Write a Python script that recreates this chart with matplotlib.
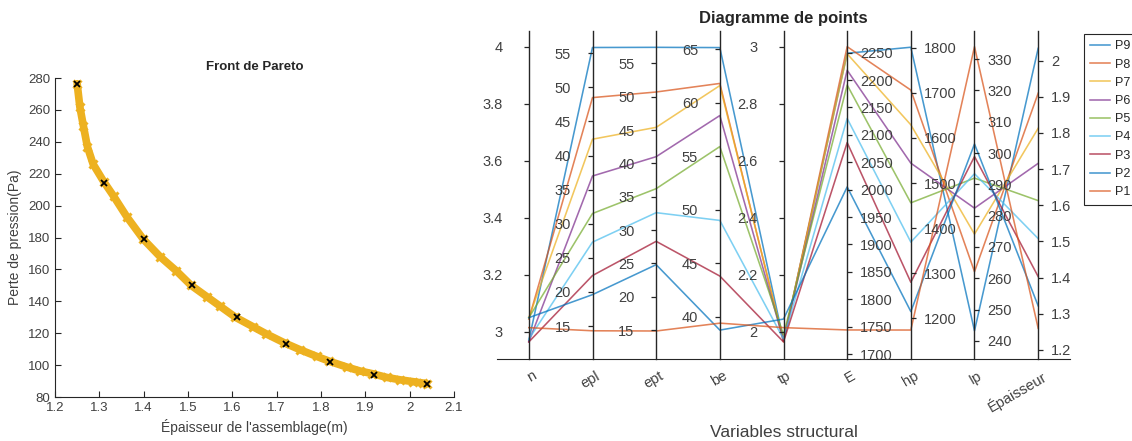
import matplotlib
matplotlib.use("Agg")
import matplotlib.pyplot as plt

plt.rcParams['font.family'] = ['Liberation Sans', 'DejaVu Sans']
plt.rcParams['text.color'] = '#262626'
plt.rcParams['axes.edgecolor'] = '#262626'
plt.rcParams['xtick.color'] = '#262626'
plt.rcParams['ytick.color'] = '#262626'

# --- Pareto front (left) ---
front_x = [1.250, 1.256, 1.264, 1.273, 1.286, 1.310, 1.332, 1.362, 1.399, 1.437,
           1.474, 1.507, 1.542, 1.572, 1.607, 1.647, 1.677, 1.717, 1.753, 1.790,
           1.819, 1.858, 1.888, 1.916, 1.948, 1.978, 2.008, 2.031, 2.038]
front_y = [276.4, 262, 250, 237, 226, 215, 206, 193, 179, 168,
           159, 150, 143, 137, 130, 124, 119.5, 114, 109.6, 105.5,
           102.4, 98.8, 96.3, 94.6, 92.3, 90.8, 89.6, 88.7, 88.3]
sel_x = [1.25, 1.31, 1.40, 1.51, 1.61, 1.72, 1.82, 1.92, 2.04]
sel_y = [276, 214, 179, 150, 130, 113, 102, 94, 88]

# --- parallel coordinates (right) ---
var_names = ['n', 'epl', 'ept', 'be', 'tp', 'E', 'hp', 'Ip', 'Épaisseur']
series_names = ['P1', 'P2', 'P3', 'P4', 'P5', 'P6', 'P7', 'P8', 'P9']
n_vals = [3.015, 3.05, 2.965, 2.975, 3.05, 2.965, 3.05, 3.045, 2.97]
epl_vals = [14.3, 19.6, 22.4, 27.3, 31.5, 37.0, 42.4, 48.5, 55.85]
ept_vals = [14.85, 24.8, 28.3, 32.6, 36.2, 41.0, 45.4, 50.7, 57.4]
be_vals = [39.4, 38.75, 43.8, 49.0, 55.9, 58.8, 61.6, 61.8, 65.15]
tp_vals = [2.015, 2.045, 1.965, 1.975, 1.99, 1.97, 1.97, 1.965, 1.97]
E_vals = [1744, 2005, 2086, 2130, 2191, 2218, 2248, 2261, 2249]
hp_vals = [1174, 1215, 1280, 1369, 1456, 1544, 1629, 1706, 1801]
Ip_vals = [334.0, 302.9, 298.9, 293.4, 292.0, 282.4, 274.1, 262.1, 243.2]
ep_vals = [1.26, 1.322, 1.403, 1.508, 1.613, 1.716, 1.813, 1.910, 2.034]
columns = [n_vals, epl_vals, ept_vals, be_vals, tp_vals, E_vals, hp_vals, Ip_vals, ep_vals]

# axis ranges and ticks for each variable
limits = [(2.905, 4.056), (10.16, 58.27), (10.65, 59.85), (36.05, 66.7), (1.905, 3.055),
          (1691, 2289.6), (1109.8, 1837), (234.2, 339), (1.175, 2.082)]
ticks = [[3, 3.2, 3.4, 3.6, 3.8, 4],
         [15, 20, 25, 30, 35, 40, 45, 50, 55],
         [15, 20, 25, 30, 35, 40, 45, 50, 55],
         [40, 45, 50, 55, 60, 65],
         [2, 2.2, 2.4, 2.6, 2.8, 3],
         [1700, 1750, 1800, 1850, 1900, 1950, 2000, 2050, 2100, 2150, 2200, 2250],
         [1200, 1300, 1400, 1500, 1600, 1700, 1800],
         [240, 250, 260, 270, 280, 290, 300, 310, 320, 330],
         [1.2, 1.3, 1.4, 1.5, 1.6, 1.7, 1.8, 1.9, 2]]
left_pads = [15, 12, 12, 12, 15]

matlab = ['#0072BD', '#D95319', '#EDB120', '#7E2F8E', '#77AC30', '#4DBEEE', '#A2142F']

fig = plt.figure(figsize=(11.32, 4.41), dpi=100)

# left plot
ax = fig.add_axes([55 / 1132, 1 - 397 / 441, 399 / 1132, 319 / 441])
ax.plot(front_x, front_y, color='#EDB120', lw=5.5, solid_capstyle='round', zorder=2)
ax.plot(front_x, front_y, 'x', color='#EDB120', ms=6, mew=2.2, zorder=2)
ax.plot(sel_x, sel_y, 'kx', ms=5, mew=1.3, zorder=3)
ax.set_xlim(1.2, 2.1)
ax.set_ylim(80, 280)
ax.set_xticks([1.2, 1.3, 1.4, 1.5, 1.6, 1.7, 1.8, 1.9, 2.0, 2.1])
ax.set_xticklabels(['1.2', '1.3', '1.4', '1.5', '1.6', '1.7', '1.8', '1.9', '2', '2.1'])
ax.set_yticks(range(80, 281, 20))
ax.tick_params(direction='in', length=4, labelsize=9.5, width=0.8, labelcolor='#404040')
ax.spines['top'].set_visible(False)
ax.spines['right'].set_visible(False)
ax.set_title('Front de Pareto', fontsize=9.5, fontweight='bold', pad=6)
ax.set_xlabel("Épaisseur de l'assemblage(m)", fontsize=10, labelpad=4, color='#404040')
ax.set_ylabel('Perte de pression(Pa)', fontsize=10, labelpad=4, color='#404040')

# right plot: host axes in normalised units
host = fig.add_axes([497 / 1132, 1 - 359 / 441, 573 / 1132, 328 / 441])
host.set_xlim(0.5, 9.5)
host.set_ylim(0, 1)
for s in ['top', 'right', 'left']:
    host.spines[s].set_visible(False)
host.set_xticks([])
host.set_yticks([])

positions = list(range(1, len(var_names) + 1))
for k in range(len(series_names) - 1, -1, -1):
    norm = [(col[k] - lo) / (hi - lo) for col, (lo, hi) in zip(columns, limits)]
    host.plot(positions, norm, color=matlab[(8 - k) % 7], lw=1.15, alpha=0.72,
              label=series_names[k])

for i, name in enumerate(var_names):
    tw = host.twinx()
    tw.set_ylim(*limits[i])
    tw.set_yticks(ticks[i])
    labels = ['%g' % t for t in ticks[i]]
    for s in ['top', 'bottom', 'left', 'right']:
        tw.spines[s].set_visible(False)
    if i < 5:
        side = 'left'
        tw.yaxis.tick_left()
        tw.set_yticklabels(labels, ha='center')
        pad = left_pads[i]
    else:
        side = 'right'
        tw.yaxis.tick_right()
        tw.set_yticklabels(labels)
        pad = 5.8
    tw.spines[side].set_visible(True)
    tw.spines[side].set_position(('data', positions[i]))
    tw.spines[side].set_linewidth(1.0)
    tw.tick_params(axis='y', direction='out', length=3.6, width=0.9,
                   labelsize=10.5, pad=pad, colors='#262626')
    tw.tick_params(axis='y', labelcolor='#404040')
    host.text(positions[i] + 0.05, -0.03, name, transform=host.get_xaxis_transform(),
              rotation=30, rotation_mode='anchor', ha='right', va='top',
              fontsize=10.5, color='#404040')

host.set_title('Diagramme de points', fontsize=12, fontweight='bold', pad=6)
host.text(0.5, -0.225, 'Variables structural', transform=host.transAxes,
          ha='center', va='center', fontsize=12.5, color='#404040')

leg = host.legend(loc='upper left', bbox_to_anchor=(1084 / 1132, 1 - 34 / 441),
                  bbox_transform=fig.transFigure, borderaxespad=0, fontsize=9,
                  fancybox=False, framealpha=1, edgecolor='#262626',
                  handlelength=1.6, handletextpad=0.35, labelspacing=0.5,
                  borderpad=0.5)
leg.get_frame().set_linewidth(0.8)

fig.savefig('out.png', dpi=100)
